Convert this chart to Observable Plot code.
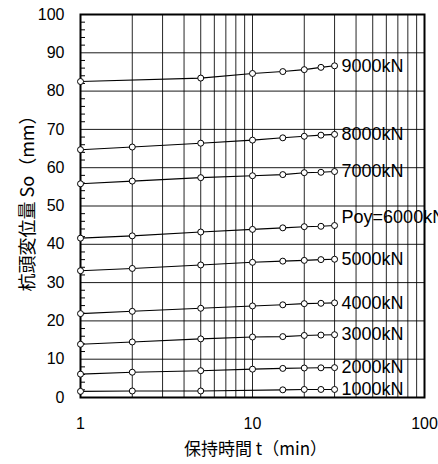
<!DOCTYPE html>
<html><head><meta charset="utf-8">
<script src="https://cdn.jsdelivr.net/npm/d3@7"></script>
<script src="https://cdn.jsdelivr.net/npm/@observablehq/plot@0.6"></script>
<style>
body{margin:0;background:#fff;overflow:hidden}
#chart svg{display:block;font-family:"Liberation Sans",Arial,sans-serif}
</style>
</head><body><div id="chart"></div>
<script>
// holding times (min)
const times = [1, 2, 5, 10, 15, 20, 25, 30];
const seriesNames = ["9000kN", "8000kN", "7000kN", "Poy=6000kN", "5000kN", "4000kN", "3000kN", "2000kN", "1000kN"];
// pile-head displacement So (mm); null = no marker at that time
const s9000 = [82.5, null, 83.4, 84.6, 85.1, 85.6, 86.2, 86.6];
const s8000 = [64.7, 65.4, 66.4, 67.2, 67.8, 68.2, 68.5, 68.7];
const s7000 = [55.8, 56.5, 57.4, 57.9, 58.2, 58.7, 58.8, 59.0];
const s6000 = [41.6, 42.2, 43.2, 43.9, 44.3, 44.6, 44.7, 44.9];
const s5000 = [33.1, 33.7, 34.6, 35.3, 35.6, 35.8, 36.0, 36.1];
const s4000 = [21.9, 22.5, 23.3, 23.9, 24.2, 24.5, 24.6, 24.7];
const s3000 = [13.9, 14.5, 15.3, 15.8, 15.9, 16.2, 16.3, 16.4];
const s2000 = [6.1, 6.6, 7.0, 7.4, 7.6, 7.7, 7.75, 7.8];
const s1000 = [1.6, 1.7, 1.7, null, 2.0, 2.1, 2.1, 2.1];

const xTicks = [1, 10, 100];
const xGrid = [2, 3, 4, 5, 6, 7, 8, 9, 10, 20, 30, 40, 50, 60, 70, 80, 90];
const yTicks = [0, 10, 20, 30, 40, 50, 60, 70, 80, 90, 100];
const yGrid = [10, 20, 30, 40, 50, 60, 70, 80, 90];
const yMinor = [2, 4, 6, 8, 12, 14, 16, 18, 22, 24, 26, 28, 32, 34, 36, 38, 42, 44, 46, 48, 52, 54, 56, 58, 62, 64, 66, 68, 72, 74, 76, 78, 82, 84, 86, 88, 92, 94, 96, 98];

const xLabel = "保持時間 t（min）";
const yLabel = "杭頭変位量 So（mm）";

const allSeries = [s9000, s8000, s7000, s6000, s5000, s4000, s3000, s2000, s1000];
const rows = [];
const ends = [];
allSeries.forEach((vals, i) => {
  vals.forEach((v, j) => { if (v != null) rows.push({t: times[j], v, series: seriesNames[i]}); });
  ends.push({t: times[times.length - 1], v: vals[vals.length - 1], label: seriesNames[i]});
});
const endsNormal = ends.filter(d => !d.label.startsWith("Poy"));
const endsPoy = ends.filter(d => d.label.startsWith("Poy"));

const font = "Liberation Sans, Arial, sans-serif";
const jp = "Noto Sans CJK JP, sans-serif";
const chart = Plot.plot({
  width: 438,
  height: 464,
  marginLeft: 80,
  marginRight: 14,
  marginTop: 14,
  marginBottom: 67,
  style: {fontSize: "16px", color: "#000", background: "#fff"},
  x: {type: "log", domain: [1, 100]},
  y: {domain: [0, 100]},
  marks: [
    Plot.gridX(xGrid, {stroke: "#000", strokeOpacity: 0.85, strokeWidth: 1}),
    Plot.gridY(yGrid, {stroke: "#000", strokeOpacity: 0.9, strokeWidth: 1}),
    Plot.axisY(yMinor, {anchor: "left", tickSize: -5, tickFormat: () => "", label: null, stroke: "#000", strokeOpacity: 1}),
    Plot.axisY(yTicks, {anchor: "left", tickSize: 0, tickPadding: 16, fontSize: 16, fontFamily: font, fill: "#000", label: null}),
    Plot.axisX(xTicks, {anchor: "bottom", tickSize: 0, tickPadding: 20, fontSize: 16, fontFamily: font, fill: "#000", tickFormat: d => String(d), label: null}),
    Plot.text([yLabel], {frameAnchor: "left", rotate: -90, dx: -52, dy: -7, fontSize: 18, fontFamily: jp, fill: "#000", textAnchor: "middle"}),
    Plot.text([xLabel], {frameAnchor: "bottom", dy: 57, dx: 3, fontSize: 17, fontFamily: jp, fill: "#000"}),
    Plot.frame({stroke: "#000", strokeWidth: 2}),
    Plot.line(rows, {x: "t", y: "v", z: "series", stroke: "#000", strokeWidth: 1.1}),
    Plot.dot(rows, {x: "t", y: "v", r: 3, fill: "#fff", stroke: "#000", strokeWidth: 1}),
    Plot.text(endsNormal, {x: "t", y: "v", text: "label", textAnchor: "start", dx: 7, fontSize: 18, fontFamily: font, fill: "#000"}),
    Plot.text(endsPoy, {x: "t", y: "v", text: "label", textAnchor: "start", dx: 7, dy: -8, fontSize: 18, fontFamily: font, fill: "#000"})
  ]
});
document.getElementById("chart").append(chart);
</script>
</body></html>
